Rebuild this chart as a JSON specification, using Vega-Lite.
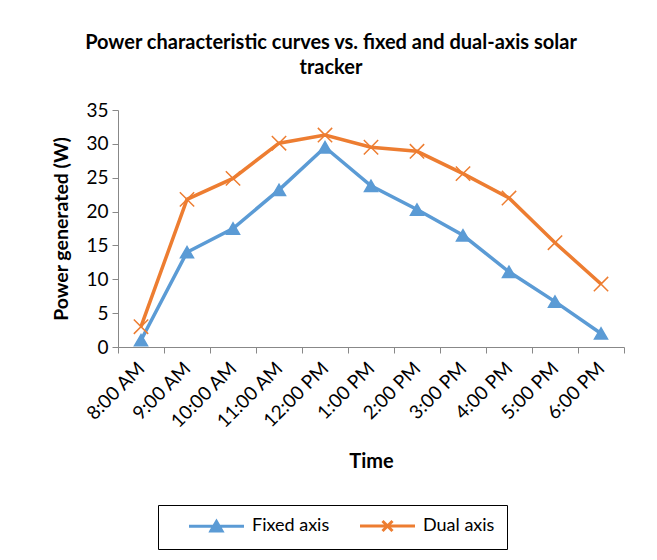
{
  "$schema": "https://vega.github.io/schema/vega-lite/v6.json",
  "width": 506,
  "height": 237,
  "padding": {"left": 51, "top": 33, "right": 26, "bottom": 5},
  "background": "white",
  "title": {
    "text": ["Power characteristic curves  vs. fixed and dual-axis solar", "tracker"],
    "font": "Lato", "fontSize": 20, "fontWeight": "bold", "color": "#000000",
    "lineHeight": 25, "offset": 23, "anchor": "middle", "frame": "group", "dx": -40
  },
  "data": {
    "values": [
      {"time": "8:00 AM", "series": "Fixed axis", "power": 1.0},
      {"time": "9:00 AM", "series": "Fixed axis", "power": 14.0},
      {"time": "10:00 AM", "series": "Fixed axis", "power": 17.5},
      {"time": "11:00 AM", "series": "Fixed axis", "power": 23.2},
      {"time": "12:00 PM", "series": "Fixed axis", "power": 29.5},
      {"time": "1:00 PM", "series": "Fixed axis", "power": 23.8},
      {"time": "2:00 PM", "series": "Fixed axis", "power": 20.3},
      {"time": "3:00 PM", "series": "Fixed axis", "power": 16.5},
      {"time": "4:00 PM", "series": "Fixed axis", "power": 11.1},
      {"time": "5:00 PM", "series": "Fixed axis", "power": 6.7},
      {"time": "6:00 PM", "series": "Fixed axis", "power": 2.0},
      {"time": "8:00 AM", "series": "Dual axis", "power": 3.0},
      {"time": "9:00 AM", "series": "Dual axis", "power": 21.8},
      {"time": "10:00 AM", "series": "Dual axis", "power": 24.9},
      {"time": "11:00 AM", "series": "Dual axis", "power": 30.1},
      {"time": "12:00 PM", "series": "Dual axis", "power": 31.3},
      {"time": "1:00 PM", "series": "Dual axis", "power": 29.5},
      {"time": "2:00 PM", "series": "Dual axis", "power": 28.9},
      {"time": "3:00 PM", "series": "Dual axis", "power": 25.6},
      {"time": "4:00 PM", "series": "Dual axis", "power": 22.0},
      {"time": "5:00 PM", "series": "Dual axis", "power": 15.4},
      {"time": "6:00 PM", "series": "Dual axis", "power": 9.3}
    ]
  },
  "encoding": {
    "x": {
      "field": "time", "type": "ordinal", "sort": null,
      "scale": {"paddingInner": 0, "paddingOuter": 0},
      "axis": {"title": "Time", "labelAngle": -45, "labelAlign": "right", "labelBaseline": "middle", "tickBand": "extent", "labelPadding": 12, "titlePadding": 20}
    },
    "y": {
      "field": "power", "type": "quantitative",
      "scale": {"domain": [0, 35], "nice": false},
      "axis": {"title": "Power generated (W)", "values": [0, 5, 10, 15, 20, 25, 30, 35], "titlePadding": 14, "titleFontSize": 19.5}
    }
  },
  "layer": [
    {
      "mark": {"type": "line", "strokeWidth": 3.5},
      "encoding": {
        "color": {
          "field": "series", "type": "nominal",
          "scale": {"domain": ["Fixed axis", "Dual axis"], "range": ["#5B9BD5", "#ED7D31"]},
          "legend": {
            "title": null, "orient": "none", "direction": "horizontal",
            "legendX": 40, "legendY": 395,
            "strokeColor": "#000000", "padding": 12,
            "symbolType": "M2,0H13", "symbolSize": 100, "symbolStrokeWidth": 3,
            "labelFont": "Lato", "labelFontSize": 18, "labelColor": "#000000",
            "columnPadding": 11, "labelOffset": 64,
            "encode": {
              "symbols": {
                "update": {
                  "size": {"value": 100},
                  "shape": {"signal": "datum.value === 'Fixed axis' ? 'M2,0H13M6.4,0.95L7.5,-0.95L8.6,0.95Z' : 'M2,0H13M6.5,-1L8.5,1M6.5,1L8.5,-1'"},
                  "fill": {"signal": "datum.value === 'Fixed axis' ? '#5B9BD5' : 'transparent'"}
                }
              }
            }
          }
        }
      }
    },
    {
      "transform": [{"filter": "datum.series === 'Fixed axis'"}],
      "mark": {"type": "point", "shape": "triangle-up", "filled": true, "size": 170, "opacity": 1, "color": "#5B9BD5", "stroke": "#5B9BD5", "strokeWidth": 1.5}
    },
    {
      "transform": [{"filter": "datum.series === 'Dual axis'"}],
      "mark": {"type": "point", "shape": "M-1.1,-1.1L1.1,1.1M-1.1,1.1L1.1,-1.1", "filled": false, "size": 170, "opacity": 1, "color": "#ED7D31", "stroke": "#ED7D31", "strokeWidth": 1.5}
    }
  ],
  "config": {
    "view": {"stroke": null},
    "axis": {
      "grid": false, "domainColor": "#888888", "tickColor": "#888888", "tickSize": 6,
      "labelFont": "Lato", "labelFontSize": 19, "labelColor": "#000000",
      "titleFont": "Lato", "titleFontSize": 20, "titleFontWeight": "bold", "titleColor": "#000000",
      "labelPadding": 4
    }
  }
}
